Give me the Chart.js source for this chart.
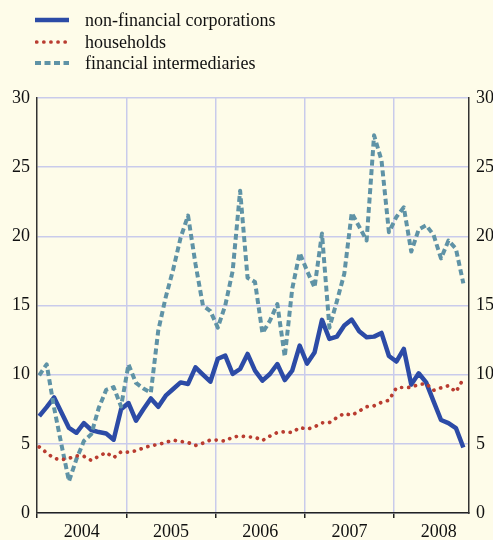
<!DOCTYPE html>
<html>
<head>
<meta charset="utf-8">
<script src="https://cdn.jsdelivr.net/npm/chart.js@4.4.1/dist/chart.umd.min.js"></script>
<style>
  html, body { margin: 0; padding: 0; background: #fefce9; width: 493px; height: 540px; overflow: hidden; }
  #wrap { position: absolute; left: 0; top: 0; width: 510px; height: 540px; }
  #legend { position: absolute; left: 0; top: 0; font-family: 'Liberation Serif', 'Times New Roman', serif; font-size: 18px; color: #111; }
  .legend-item { position: absolute; left: 35px; height: 20px; white-space: nowrap; }
  .legend-item svg { position: absolute; left: 0; top: 5px; }
  .legend-label { position: absolute; left: 50px; top: 0; line-height: 20px; }
</style>
</head>
<body>
<div id="wrap"><canvas id="debtChart"></canvas></div>
<div id="legend"></div>
<script>
const years = ['2004', '2005', '2006', '2007', '2008'];
const yTicks = [0, 5, 10, 15, 20, 25, 30];

// monthly values, Jan 2004 - Oct 2008
const corporations = [
  7.0, 7.65, 8.35, 7.25, 6.15, 5.8, 6.5, 6.0, 5.85, 5.75, 5.3, 7.5,
  7.95, 6.67, 7.5, 8.28, 7.68, 8.48, 8.96, 9.44, 9.33, 10.53, 10.0, 9.49,
  11.15, 11.38, 10.05, 10.41, 11.5, 10.29, 9.57, 10.05, 10.77, 9.61, 10.29, 12.1,
  10.8, 11.6, 13.96, 12.58, 12.75, 13.55, 13.98, 13.14, 12.7, 12.75, 13.02, 11.35,
  10.95, 11.86, 9.28, 10.1, 9.44, 8.07, 6.72, 6.5, 6.14, 4.73
];
const households = [
  4.78, 4.35, 3.95, 3.85, 3.95, 4.14, 4.1, 3.8, 4.1, 4.37, 4.0, 4.42,
  4.4, 4.5, 4.7, 4.87, 4.95, 5.1, 5.27, 5.17, 5.1, 4.88, 5.05, 5.28,
  5.27, 5.2, 5.49, 5.57, 5.5, 5.48, 5.24, 5.56, 5.82, 5.88, 5.82, 6.18,
  6.06, 6.22, 6.52, 6.54, 6.9, 7.2, 7.06, 7.37, 7.68, 7.75, 8.0, 8.15,
  9.05, 9.08, 9.08, 9.3, 9.35, 8.87, 9.05, 9.2, 8.75, 9.7
];
const intermediaries = [
  9.95, 10.75, 7.6, 4.9, 2.3, 3.9, 5.2, 5.7, 7.6, 8.9, 9.1, 7.7,
  10.75, 9.4, 9.0, 8.7, 13.2, 15.6, 17.6, 19.9, 21.5, 18.0, 15.0, 14.6,
  13.4, 15.0, 17.5, 23.3, 17.0, 16.7, 13.0, 13.9, 15.1, 11.3, 16.2, 18.8,
  17.5, 16.3, 20.2, 13.4, 15.3, 17.3, 21.7, 20.7, 19.7, 27.3, 25.5, 20.3,
  21.4, 22.1, 18.9, 20.5, 20.8, 20.1, 18.4, 19.7, 19.1, 16.6
];

const gridColor = '#c9cbeb';
const toPoints = arr => arr.map((v, i) => ({ x: i + 0.3, y: v }));

Chart.defaults.font.family = "'Liberation Serif', 'Times New Roman', serif";
Chart.defaults.color = '#111';

const ctx = document.getElementById('debtChart').getContext('2d');
const debtChart = new Chart(ctx, {
    type: 'line',
    data: {
        datasets: [{
            label: 'non-financial corporations',
            data: toPoints(corporations),
            borderColor: '#2c4ba6',
            borderWidth: 4.5,
            borderJoinStyle: 'round',
            order: 2
        }, {
            label: 'households',
            data: toPoints(households),
            borderColor: '#b93c30',
            borderWidth: 3.7,
            borderDash: [0.1, 7],
            borderCapStyle: 'round',
            order: 0
        }, {
            label: 'financial intermediaries',
            data: toPoints(intermediaries),
            borderColor: '#5f93a6',
            borderWidth: 4,
            borderDash: [6, 3.5],
            borderJoinStyle: 'round',
            order: 1
        }]
    },
    options: {
        responsive: true,
        maintainAspectRatio: false,
        animation: false,
        elements: { point: { radius: 0 }, line: { tension: 0 } },
        layout: { padding: { top: 98, left: 0, right: 0, bottom: 0 } },
        scales: {
            x: {
                type: 'linear',
                min: 0,
                max: 58.06,
                afterBuildTicks: axis => { axis.ticks = [0, 6, 12, 18, 24, 30, 36, 42, 48, 54].map(v => ({ value: v })); },
                afterFit: scale => { scale.height = 27; },
                ticks: {
                    autoSkip: false,
                    maxRotation: 0,
                    padding: 3,
                    font: { size: 18 },
                    callback: value => (value % 12 === 6 ? years[(value - 6) / 12] : '')
                },
                grid: {
                    color: c => (c.tick && c.tick.value % 12 === 0 && c.tick.value > 0 ? gridColor : 'rgba(0,0,0,0)'),
                    tickColor: c => (c.tick && c.tick.value % 12 === 0 ? '#222' : 'rgba(0,0,0,0)'),
                    lineWidth: 1.5,
                    tickLength: 5,
                    tickWidth: 1.5
                },
                border: { color: '#222', width: 1.5 }
            },
            y: {
                position: 'left',
                min: 0,
                max: 30,
                afterBuildTicks: axis => { axis.ticks = yTicks.map(v => ({ value: v })); },
                afterFit: scale => { scale.width = 37; },
                ticks: { padding: 7, font: { size: 18 } },
                grid: { color: gridColor, lineWidth: 1.5, drawTicks: false },
                border: { color: '#333', width: 1.5 }
            },
            y2: {
                position: 'right',
                min: 0,
                max: 30,
                afterBuildTicks: axis => { axis.ticks = yTicks.map(v => ({ value: v })); },
                afterFit: scale => { scale.width = 41; },
                ticks: { padding: 7, font: { size: 18 } },
                grid: { drawOnChartArea: false, drawTicks: false },
                border: { color: '#333', width: 1.5 }
            }
        },
        plugins: {
            legend: { display: false },
            tooltip: { enabled: false }
        }
    }
});

function generateCustomLegend(chart) {
    const legendContainer = document.getElementById('legend');
    const rowTops = [10, 32, 53];
    legendContainer.innerHTML = chart.data.datasets.map((dataset, index) => {
        const dash = dataset.borderDash ? dataset.borderDash.join(' ') : 'none';
        const cap = dataset.borderCapStyle || 'butt';
        const x1 = cap === 'round' ? 1.7 : 0;
        return `
            <div class="legend-item" style="top:${rowTops[index]}px">
                <svg width="36" height="10">
                    <line x1="${x1}" y1="5" x2="34" y2="5" stroke="${dataset.borderColor}"
                        stroke-width="${dataset.borderWidth}" stroke-dasharray="${dash}" stroke-linecap="${cap}"/>
                </svg>
                <span class="legend-label">${dataset.label}</span>
            </div>
        `;
    }).join('');
}

generateCustomLegend(debtChart);
</script>
</body>
</html>
